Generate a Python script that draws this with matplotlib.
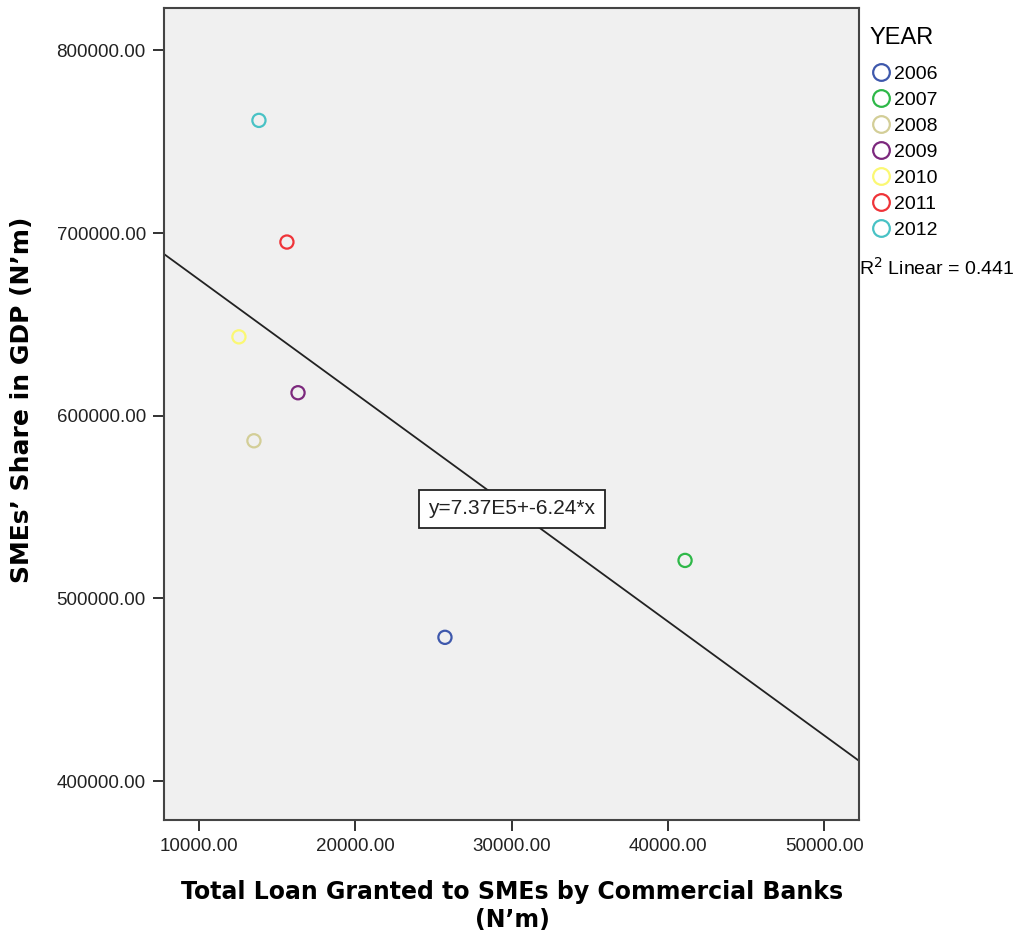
import numpy as np
import matplotlib
matplotlib.use("Agg")
import matplotlib.pyplot as plt
from matplotlib.lines import Line2D

plt.rcParams['font.family'] = ['Liberation Sans', 'DejaVu Sans']

years = ["2006", "2007", "2008", "2009", "2010", "2011", "2012"]
loans = [25740, 41100, 13520, 16340, 12560, 15630, 13840]
gdp_share = [478700, 520800, 586300, 612600, 643200, 695100, 761700]
colors = ["#3E58AC", "#2EB848", "#D3CE97", "#7C287D", "#FBF873", "#EF3338", "#48C2C5"]

intercept = 7.37e5
slope = -6.24
r2 = 0.441

xticks = [10000, 20000, 30000, 40000, 50000]
yticks = [400000, 500000, 600000, 700000, 800000]

fig = plt.figure(figsize=(10.18, 9.35), dpi=100)
ax = fig.add_axes([0.161, 0.123, 0.683, 0.868])
ax.set_facecolor("#F0F0F0")

for yr, x, y, c in zip(years, loans, gdp_share, colors):
    ax.scatter(x, y, s=90, facecolors="none", edgecolors=c, linewidths=1.6, label=yr, zorder=3)

xlim = (7760, 52240)
ylim = (378700, 823000)
xs = np.array(xlim)
ax.plot(xs, intercept + slope * xs, color="#222222", lw=1.3, zorder=2)
ax.set_xlim(xlim)
ax.set_ylim(ylim)

ax.text(30030, 549000, "y=7.37E5+-6.24*x", fontsize=15, ha="center", va="center",
        color="#222222", zorder=4,
        bbox=dict(boxstyle="square,pad=0.45", fc="white", ec="#222222", lw=1.3))

ax.set_xticks(xticks)
ax.set_yticks(yticks)
ax.set_xticklabels([f"{v:.2f}" for v in xticks])
ax.set_yticklabels([f"{v:.2f}" for v in yticks])
ax.tick_params(direction="out", length=8, width=1.3, labelsize=13.5, colors="#222222", pad=5)

for s in ax.spines.values():
    s.set_color("#444444")
    s.set_linewidth(1.5)

# axis titles (SPSS style, wide bold text)
fig.text(0.503, 1 - 892 / 935, "Total Loan Granted to SMEs by Commercial Banks",
         fontsize=17, fontweight="bold", family="DejaVu Sans", ha="center", va="center")
fig.text(0.503, 1 - 920 / 935, "(N’m)",
         fontsize=17, fontweight="bold", family="DejaVu Sans", ha="center", va="center")
fig.text(22 / 1018, 1 - 400 / 935, "SMEs’ Share in GDP (N’m)", rotation=90,
         fontsize=18, fontweight="bold", family="DejaVu Sans", ha="center", va="center")

handles = [Line2D([], [], marker="o", ls="none", mfc="none", mec=c, mew=1.6, ms=12)
           for c in colors]
leg = ax.legend(handles, years, loc="upper left", bbox_to_anchor=(0.995, 0.994),
                frameon=False, fontsize=14, title="YEAR", title_fontsize=17,
                handletextpad=0.05, labelspacing=0.43, borderaxespad=0.3,
                handlelength=1.2, alignment="left")
leg._legend_box.sep = 12

fig.text(0.8435, 1 - 268 / 935, r"R$^2$ Linear = 0.441", fontsize=14, ha="left", va="center")

fig.savefig("out.png", dpi=100)
